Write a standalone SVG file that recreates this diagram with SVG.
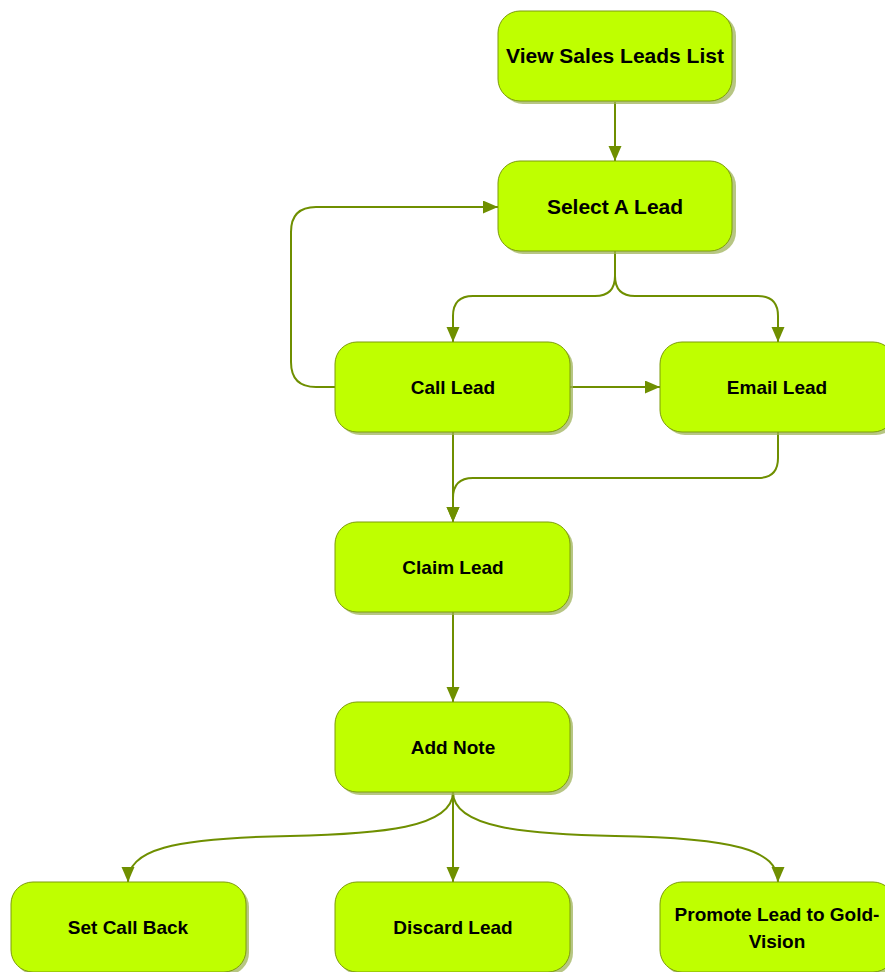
<svg xmlns="http://www.w3.org/2000/svg" width="885" height="972" viewBox="0 0 885 972">
<style>
.box{fill:#bfff00;stroke:#7d9c0a;stroke-width:1}
.sh{fill:#9fb35a;opacity:0.75}
.t{font-family:"Liberation Sans",Arial,sans-serif;font-weight:bold;font-size:19px;fill:#000;text-anchor:middle}
.big{font-size:21px}
.c{fill:none;stroke:#6f8f00;stroke-width:2}
</style>
<defs>
<marker id="ah" markerUnits="userSpaceOnUse" markerWidth="16" markerHeight="14" refX="15" refY="6.5" orient="auto">
<path d="M0,0 L15,6.5 L0,13 Z" fill="#6f8f00"/>
</marker>
</defs>
<rect width="885" height="972" fill="#fff"/>
<g id="connectors">
<path class="c" d="M615,102 L615,161" marker-end="url(#ah)"/>
<path class="c" d="M615,251 L615,276 Q615,296 595,296 L473,296 Q453,296 453,316 L453,342" marker-end="url(#ah)"/>
<path class="c" d="M615,251 L615,276 Q615,296 635,296 L758,296 Q778,296 778,316 L778,342" marker-end="url(#ah)"/>
<path class="c" d="M335,387 L316,387 Q291,387 291,362 L291,232 Q291,207 316,207 L498,207" marker-end="url(#ah)"/>
<path class="c" d="M570,387 L660,387" marker-end="url(#ah)"/>
<path class="c" d="M453,432 L453,522" marker-end="url(#ah)"/>
<path class="c" d="M778,432 L778,458 Q778,478 758,478 L473,478 Q453,478 453,498 L453,522" marker-end="url(#ah)"/>
<path class="c" d="M453,612 L453,702" marker-end="url(#ah)"/>
<path class="c" d="M453,792 C453,828 380,834 290,836 C170,838 128,850 128,882" marker-end="url(#ah)"/>
<path class="c" d="M453,792 L453,882" marker-end="url(#ah)"/>
<path class="c" d="M453,792 C453,828 526,834 615,836 C735,838 778,850 778,882" marker-end="url(#ah)"/>
</g>
<g id="n1"><rect class="sh" x="501" y="14" width="235" height="90" rx="22"/><rect class="box" x="498" y="11" width="234" height="90" rx="22"/><text class="t big" x="615" y="63">View Sales Leads List</text></g>
<g id="n2"><rect class="sh" x="501" y="164" width="235" height="90" rx="22"/><rect class="box" x="498" y="161" width="234" height="90" rx="22"/><text class="t big" x="615" y="214">Select A Lead</text></g>
<g id="n3"><rect class="sh" x="338" y="345" width="235" height="90" rx="22"/><rect class="box" x="335" y="342" width="235" height="90" rx="22"/><text class="t" x="453" y="394">Call Lead</text></g>
<g id="n4"><rect class="sh" x="663" y="345" width="235" height="90" rx="22"/><rect class="box" x="660" y="342" width="235" height="90" rx="22"/><text class="t" x="777" y="394">Email Lead</text></g>
<g id="n5"><rect class="sh" x="338" y="525" width="235" height="90" rx="22"/><rect class="box" x="335" y="522" width="235" height="90" rx="22"/><text class="t" x="453" y="574">Claim Lead</text></g>
<g id="n6"><rect class="sh" x="338" y="705" width="235" height="90" rx="22"/><rect class="box" x="335" y="702" width="235" height="90" rx="22"/><text class="t" x="453" y="754">Add Note</text></g>
<g id="n7"><rect class="sh" x="14" y="885" width="235" height="90" rx="22"/><rect class="box" x="11" y="882" width="235" height="90" rx="22"/><text class="t" x="128" y="934">Set Call Back</text></g>
<g id="n8"><rect class="sh" x="338" y="885" width="235" height="90" rx="22"/><rect class="box" x="335" y="882" width="235" height="90" rx="22"/><text class="t" x="453" y="934">Discard Lead</text></g>
<g id="n9"><rect class="sh" x="663" y="885" width="235" height="90" rx="22"/><rect class="box" x="660" y="882" width="235" height="90" rx="22"/><text class="t" x="777" y="921">Promote Lead to Gold-</text><text class="t" x="777" y="948">Vision</text></g>
</svg>
